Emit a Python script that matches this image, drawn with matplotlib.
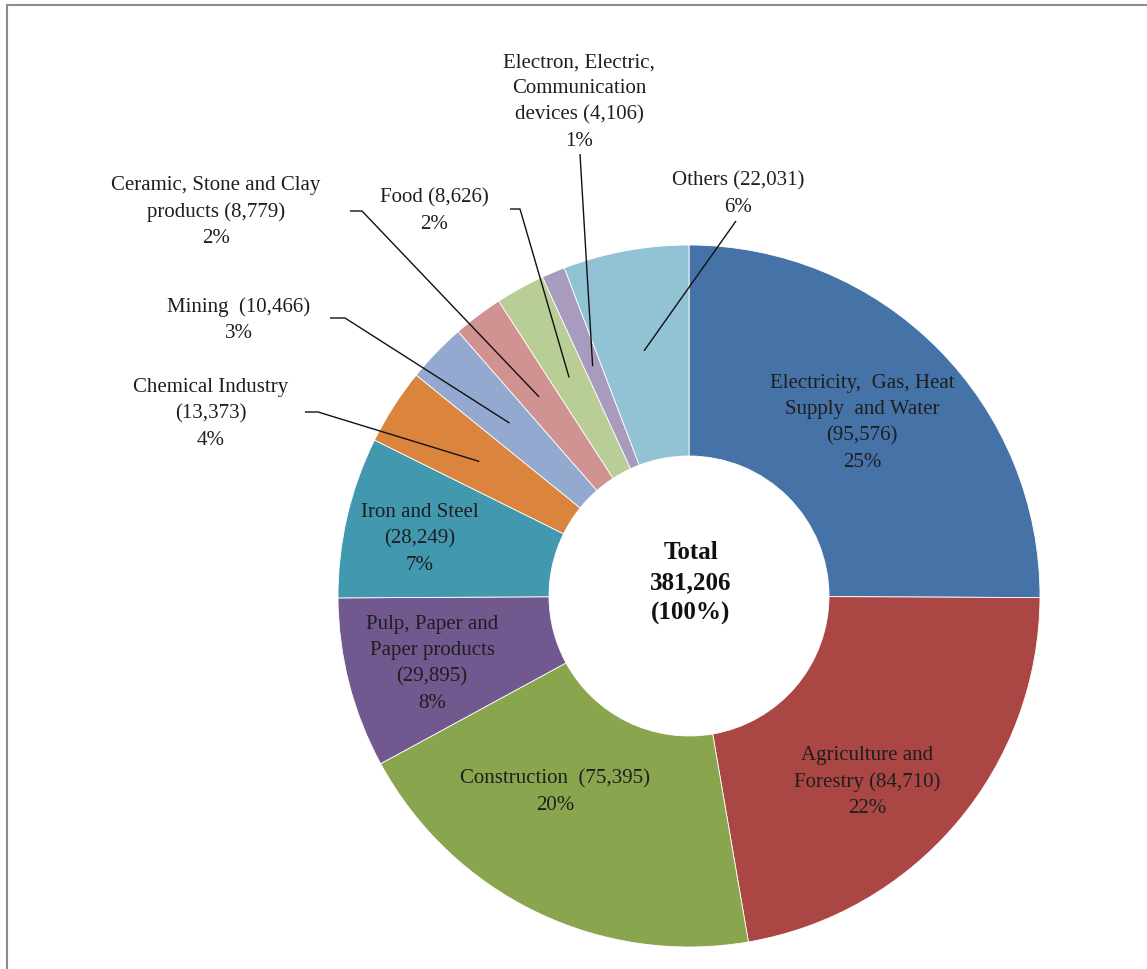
import numpy as np
import matplotlib
matplotlib.use("Agg")
from matplotlib import pyplot as plt
from matplotlib.lines import Line2D

plt.rcParams['font.family'] = ['Liberation Serif', 'DejaVu Serif']

# donnees
sectors = ['Electricity, Gas, Heat Supply and Water', 'Agriculture and Forestry',
           'Construction', 'Pulp, Paper and Paper products', 'Iron and Steel',
           'Chemical Industry', 'Mining', 'Ceramic, Stone and Clay products',
           'Food', 'Electron, Electric, Communication devices', 'Others']
values = [95576, 84710, 75395, 29895, 28249, 13373, 10466, 8779, 8626, 4106, 22031]
colors = ['#4572A7', '#AA4643', '#89A54E', '#71588F', '#4198AF', '#DB843D',
          '#93A9CF', '#D19392', '#B9CD96', '#A99BBD', '#92C3D5']

total = sum(values)
pct = [f'{v / total * 100:.0f}%' for v in values]
num = [f'({v:,})' for v in values]

# texte des etiquettes (retours a la ligne comme sur l'original)
labels = [
    f'Electricity,  Gas, Heat\nSupply  and Water\n{num[0]}\n{pct[0]}',
    f'Agriculture and\nForestry {num[1]}\n{pct[1]}',
    f'Construction  {num[2]}\n{pct[2]}',
    f'Pulp, Paper and\nPaper products\n{num[3]}\n{pct[3]}',
    f'Iron and Steel\n{num[4]}\n{pct[4]}',
    f'Chemical Industry\n{num[5]}\n{pct[5]}',
    f'Mining  {num[6]}\n{pct[6]}',
    f'Ceramic, Stone and Clay\nproducts {num[7]}\n{pct[7]}',
    f'Food {num[8]}\n{pct[8]}',
    f'Electron, Electric,\nCommunication\ndevices {num[9]}\n{pct[9]}',
    f'Others {num[10]}\n{pct[10]}',
]

W, H = 1147, 970
cx, cy, R, r_in = 689, H - 597, 351, 140

fig = plt.figure(figsize=(W / 100, H / 100), dpi=100)
ax = fig.add_axes([0, 0, 1, 1])
wedges, _ = ax.pie(values, colors=colors, startangle=90, counterclock=False,
                   center=(cx, cy), radius=R,
                   wedgeprops=dict(width=R - r_in, edgecolor='white', linewidth=0.6))
ax.set_xlim(0, W)
ax.set_ylim(0, H)
ax.set_aspect('equal')
ax.axis('off')

# position des textes (pixels, y depuis le haut)
label_pos = [(862, 423), (867, 782), (555, 792), (432, 664), (420, 539),
             (211, 414), (239, 320), (216, 212), (434, 211), (579, 102), (738, 194)]
# depart des traits de rappel (None = etiquette dans la part)
leader_start = [None, None, None, None, None,
                [(305, 413), (318, 413)], [(330, 319), (345, 319)],
                [(350, 212), (362, 212)], [(510, 210), (520, 210)],
                [(580, 155)], [(736, 222)]]

for i, w in enumerate(wedges):
    x, y = label_pos[i]
    ax.text(x, H - y, labels[i], ha='center', va='center', fontsize=15,
            linespacing=1.5, color='#1e1e1e')
    if leader_start[i] is not None:
        mid = np.deg2rad((w.theta1 + w.theta2) / 2)
        ex = cx + 0.71 * R * np.cos(mid)
        ey = cy + 0.71 * R * np.sin(mid)
        xs = [p[0] for p in leader_start[i]] + [ex]
        ys = [H - p[1] for p in leader_start[i]] + [ey]
        ax.plot(xs, ys, color='#111111', lw=1.0, solid_capstyle='butt')

ax.text(cx + 2, H - 583, f'Total\n{total:,}\n(100%)', ha='center', va='center',
        fontsize=18, fontweight='bold', linespacing=1.4, color='#111111')

# cadre gris (haut et gauche seulement, image rognee)
fig.add_artist(Line2D([7 / W, 1], [1 - 6 / H, 1 - 6 / H], color='#8c8c8c', lw=1.5))
fig.add_artist(Line2D([7 / W, 7 / W], [0, 1 - 6 / H], color='#8c8c8c', lw=1.5))

plt.savefig('out.png', dpi=100)
